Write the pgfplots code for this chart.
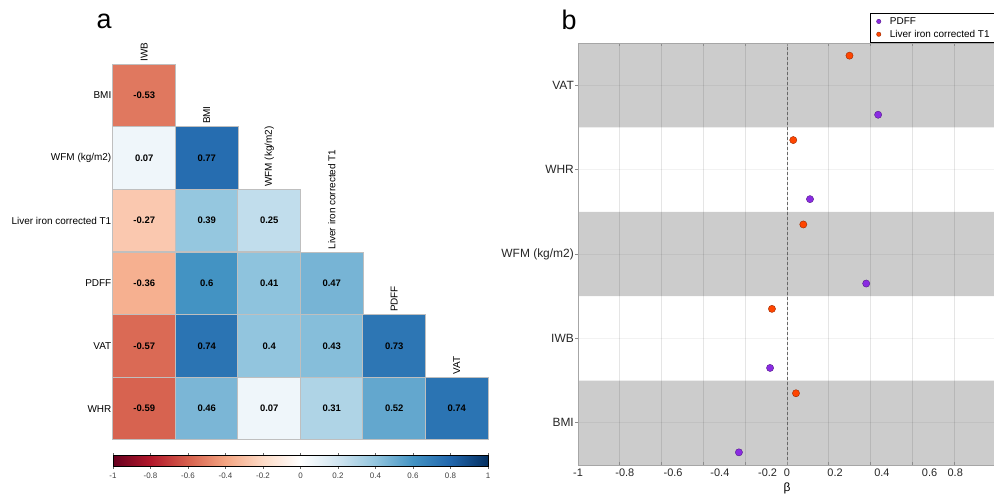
\documentclass[border=0pt]{standalone}
\usepackage{fontspec}
\setmainfont{Liberation Sans}
\usepackage{pgfplots}
\usepackage{pgfplotstable}
\pgfplotsset{compat=1.18}
\pgfplotsset{
  /pgf/number format/assume math mode=true,
  colormap={RdBu}{rgb255=(103,0,31) rgb255=(178,24,43) rgb255=(214,96,77) rgb255=(244,165,130) rgb255=(253,219,199) rgb255=(255,255,255) rgb255=(209,229,240) rgb255=(146,197,222) rgb255=(67,147,195) rgb255=(33,102,172) rgb255=(5,48,97)},
}
\definecolor{pdffc}{RGB}{138,43,226}
\definecolor{ironc}{RGB}{255,69,0}
\definecolor{bandc}{RGB}{204,204,204}

\pgfplotstableread{
x y c
1 6 -0.53
1 5 0.07
2 5 0.77
1 4 -0.27
2 4 0.39
3 4 0.25
1 3 -0.36
2 3 0.6
3 3 0.41
4 3 0.47
1 2 -0.57
2 2 0.74
3 2 0.4
4 2 0.43
5 2 0.73
1 1 -0.59
2 1 0.46
3 1 0.07
4 1 0.31
5 1 0.52
6 1 0.74
}\corrtable

% beta estimates: x = beta, y = category position (BMI=1 ... VAT=5)
\pgfplotstableread{
x y
0.436 4.65
0.110 3.65
0.379 2.65
-0.081 1.65
-0.230 0.65
}\pdfftable

\pgfplotstableread{
x y
0.299 5.35
0.030 4.35
0.078 3.35
-0.072 2.35
0.043 1.35
}\irontable

\begin{document}
\begin{tikzpicture}
\useasboundingbox (0,0) rectangle (994bp,495bp);
\node[font=\fontsize{27}{30}\selectfont] at (104bp,474bp) {a};
\node[font=\fontsize{27}{30}\selectfont] at (569bp,475bp) {b};

% ---------------- panel a ----------------
\begin{axis}[
  name=A, at={(113bp,55bp)}, anchor=south west,
  scale only axis, width=375bp, height=376bp,
  xmin=0.5, xmax=6.5, ymin=0.5, ymax=6.5, clip=false,
  axis line style={draw=none},
  xtick=\empty, ytick={1,2,3,4,5,6},
  yticklabels={WHR,VAT,PDFF,Liver iron corrected T1,WFM (kg/m2),BMI},
  major tick length=0pt,
  yticklabel style={font=\fontsize{10}{12}\selectfont, inner sep=1.5bp},
  colormap name=RdBu, point meta min=-1, point meta max=1,
  colorbar horizontal,
  colorbar style={
    at={(parent axis.south west)}, anchor=north west, yshift=-7bp,
    scale only axis, width=375bp, height=11bp,
    xtick={-1,-0.8,-0.6,-0.4,-0.2,0,0.2,0.4,0.6,0.8,1},
    xticklabel style={font=\fontsize{8}{9}\selectfont, text=black!75},
    major tick length=2.5bp, xtick align=outside, tick style={black!60},
    axis line style={draw=black, line width=0.8bp},
  },
]
\addplot[scatter, only marks, mark=square*, mark size=31.3bp, line width=1bp,
  scatter/use mapped color={draw=black!25, fill=mapped color},
  point meta=explicit]
  table[x=x, y=y, meta=c] {\corrtable};
\addplot[only marks, mark=none, point meta=explicit,
  nodes near coords={\pgfmathprintnumber[fixed,precision=2]{\pgfplotspointmeta}},
  every node near coord/.append style={font=\bfseries\fontsize{9.5}{11}\selectfont, anchor=center, text=black}]
  table[x=x, y=y, meta=c] {\corrtable};
\node[rotate=90, anchor=west, inner sep=2.5bp, font=\fontsize{10}{12}\selectfont] at (axis cs:1,6.5) {IWB};
\node[rotate=90, anchor=west, inner sep=2.5bp, font=\fontsize{10}{12}\selectfont] at (axis cs:2,5.5) {BMI};
\node[rotate=90, anchor=west, inner sep=2.5bp, font=\fontsize{10}{12}\selectfont] at (axis cs:3,4.5) {WFM (kg/m2)};
\node[rotate=90, anchor=west, inner sep=2.5bp, font=\fontsize{10}{12}\selectfont] at (axis cs:4,3.5) {Liver iron corrected T1};
\node[rotate=90, anchor=west, inner sep=2.5bp, font=\fontsize{10}{12}\selectfont] at (axis cs:5,2.5) {PDFF};
\node[rotate=90, anchor=west, inner sep=2.5bp, font=\fontsize{10}{12}\selectfont] at (axis cs:6,1.5) {VAT};
\end{axis}

% ---------------- panel b ----------------
\begin{axis}[
  name=B, at={(578bp,30bp)}, anchor=south west,
  scale only axis, width=418bp, height=422bp,
  axis on top,
  xmin=-1, xmax=1, ymin=0.5, ymax=5.5,
  xtick={-1,-0.8,-0.6,-0.4,-0.2,0,0.2,0.4,0.6,0.8}, xticklabels={},
  extra x ticks={-1,-0.776,-0.545,-0.321,-0.093,0,0.230,0.454,0.682,0.805},
  extra x tick labels={-1,-0.8,-0.6,-0.4,-0.2,0,0.2,0.4,0.6,0.8},
  extra x tick style={grid=none, major tick length=0pt},
  xticklabel style={font=\fontsize{11}{13}\selectfont, text=black!85},
  ytick={1,2,3,4,5}, yticklabels={BMI,IWB,WFM (kg/m2),WHR,VAT},
  yticklabel style={font=\fontsize{12}{14}\selectfont, text=black!85, inner sep=1bp},
  xmajorgrids, ymajorgrids,
  x grid style={black, opacity=0.1, line width=0.7bp},
  y grid style={black, opacity=0.05, line width=0.7bp},
  xtick align=inside, ytick align=outside, ytick pos=left,
  major tick length=3bp, tick style={black!45, line width=0.7bp},
  axis line style={black!35, line width=1bp},
  xlabel={β}, xlabel style={font=\fontsize{12}{14}\selectfont, yshift=0bp},
  legend style={at={(1,1)}, anchor=south east, xshift=2bp, yshift=0bp, draw=black, line width=0.8bp,
    font=\fontsize{10}{12}\selectfont, inner xsep=6bp, inner ysep=2bp, row sep=0.3bp,
    /tikz/every odd column/.append style={column sep=7bp}},
  legend cell align=left,
  legend image code/.code={\draw[#1, mark size=2.2bp] plot coordinates {(0cm,0cm)};},
]
\addplot[forget plot, fill=bandc, draw=none] coordinates {(-1,4.5) (1,4.5) (1,5.5) (-1,5.5) (-1,4.5)};
\addplot[forget plot, fill=bandc, draw=none] coordinates {(-1,2.5) (1,2.5) (1,3.5) (-1,3.5) (-1,2.5)};
\addplot[forget plot, fill=bandc, draw=none] coordinates {(-1,0.5) (1,0.5) (1,1.5) (-1,1.5) (-1,0.5)};
\addplot[forget plot, black!55, dash pattern=on 3bp off 2bp, line width=0.8bp] coordinates {(0,0.5) (0,5.5)};
\addplot[only marks, mark=*, mark size=3.6bp, mark options={fill=pdffc, draw=pdffc!60!black, line width=0.4bp}] table[x=x, y=y] {\pdfftable};
\addlegendentry{PDFF}
\addplot[only marks, mark=*, mark size=3.6bp, mark options={fill=ironc, draw=ironc!60!black, line width=0.4bp}] table[x=x, y=y] {\irontable};
\addlegendentry{Liver iron corrected T1}
\end{axis}
\end{tikzpicture}
\end{document}
